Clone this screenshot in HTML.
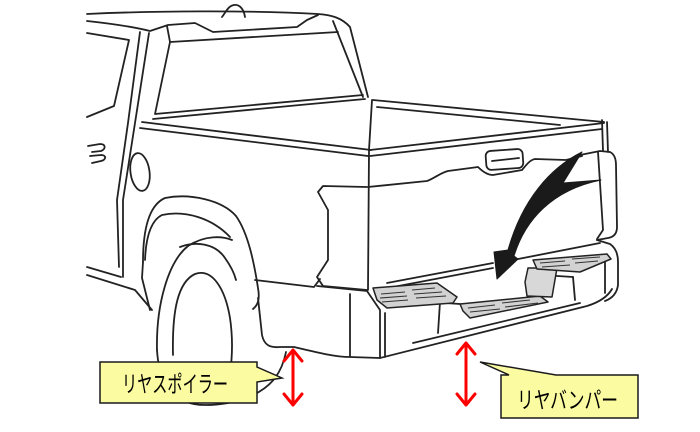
<!DOCTYPE html>
<html><head><meta charset="utf-8"><style>
html,body{margin:0;padding:0;background:#fff;}
svg{display:block;}
</style></head><body>
<svg width="700" height="432" viewBox="0 0 700 432" xmlns="http://www.w3.org/2000/svg">
<rect width="700" height="432" fill="#fff"/>
<g fill="none" stroke="#222" stroke-width="1.8" stroke-linejoin="round" stroke-linecap="round">
<!-- roof -->
<path d="M87 14 C150 11 250 10 318 14 C332 15 342 18 350 27 L368 97"/>
<path d="M333 21 L363 97"/>
<path d="M87 21 C115 24 138 28 150 31 L168 25 L195 23 L213 32 L297 27 L307 20 L318 15"/>
<path d="M222 17 C226 12 228 6 234 5 C240 4 244 10 245 17"/>
<!-- rear window -->
<path d="M167 26 L170 42 L338 32"/>
<path d="M170 42 L155 114 L363 95"/>
<path d="M153 119 L300 105 L365 99"/>
<!-- side window and pillars -->
<path d="M87 33 L129 40 L114 106 L87 117"/>
<path d="M149 33 L135 123 L123 200 L123 277"/>
<path d="M140 32 L128 123 L117 200 L119 267"/>
<path d="M87 267 L121 277"/>
<path d="M87 275 L135 290 L152 310"/>
<!-- door handle -->
<path d="M88 146 L100 144 C106 144 106 149 101 151 L92 152 M90 156 L101 155 C107 155 106 160 101 161 L92 163"/>
<!-- fuel door -->
<ellipse cx="140" cy="172" rx="9.5" ry="19" transform="rotate(-8 140 172)"/>
<!-- bed rails -->
<path d="M142 122 L371 150"/>
<path d="M140 128 L368 156"/>
<path d="M373 100 L604 122"/>
<path d="M377 107 L560 125"/>
<path d="M372 100 L369 150"/>
<path d="M370 150 L604 123"/>
<path d="M370 156 L602 129"/>
<path d="M602 120 L603 151 M607 122 L608 152"/>
<!-- left tail light / bed corner -->
<path d="M369 150 L368 290"/>
<path d="M367 187 L323 186 L318 192 L328 210 L328 260 L317 277 L323 286 L367 290"/>
<path d="M255 280 L314 287 L320 279"/>
<!-- tailgate character line and handle -->
<path d="M368 187 L427 181 C435 178 440 173 448 171 L478 167 C483 172 488 175 493 175 L522 170 C527 164 530 160 535 159 L566 160 L582 156"/>
<rect x="486" y="150" width="37" height="19" rx="5" transform="rotate(-4 504 160)"/>
<path d="M492 161 L519 158"/>
<!-- right tail light -->
<path d="M580 155 L600 151 L610 152 C614 154 616 158 616 165 L617 227 C617 233 614 237 608 238 L597 240"/>
<path d="M598 152 L603 230 L597 239"/>
<!-- fender flare -->
<path d="M143 262 C143 230 149 205 165 198 C190 193 222 200 236 216 C248 233 254 262 258 288 C260 299 258 305 253 309"/>
<path d="M145 260 C146 235 152 220 162 215 C185 210 212 218 230 237"/>
<path d="M143 262 L142 278 L150 310"/>
<!-- tire -->
<path d="M157 350 C156 305 168 262 188 246 C205 235 222 236 232 240"/>
<path d="M180 247 C195 241 215 243 225 258 C230 265 234 272 236 280"/>
<path d="M157 350 C159 385 175 405 205 405 C235 405 262 395 275 378 C281 370 284 362 286 352"/>
<path d="M173 355 C172 310 178 282 195 274 C212 268 225 288 230 318 C234 345 232 375 224 398"/>
<!-- left bumper -->
<path d="M258 298 L262 335 C264 345 270 348 280 347 L294 347 C315 352 335 357 350 357 L380 358"/>
<path d="M317 286 L367 291 L380 310 L380 357"/>
<path d="M350 294 L350 356"/>
<path d="M385 313 L385 357"/>
<!-- bumper main -->
<path d="M380 358 L587 306 C600 302 608 296 612 289"/>
<path d="M413 343 L580 303"/>
<path d="M597 240 L610 244 C616 248 618 255 618 262 L618 285 C617 293 613 298 605 301"/>
<path d="M600 243 L513 260"/>
<path d="M387 283 L493 263"/>
<path d="M388 288 L493 268"/>
<path d="M440 302 L438 333"/>
<path d="M573 277 L575 300"/>
<path d="M605 257 L605 293"/>
<path d="M445 303 L460 304"/>
<path d="M542 275 L573 277"/>
</g>
<!-- steps -->
<g stroke="#222" stroke-width="1.5" stroke-linejoin="round">
<path d="M373 288 L437 283 L457 297 L453 303 L387 308 L377 300 Z" fill="#d2d2d2"/>
<path d="M460 304 L540 296 L548 302 L470 318 L463 311 Z" fill="#d2d2d2"/>
<path d="M528 268 L557 268 L552 297 L527 296 L525 282 Z" fill="#d8d8d8"/>
<path d="M533 260 L607 254 L611 259 L580 272 L537 269 Z" fill="#d2d2d2"/>
</g>
<g stroke="#333" stroke-width="1.1" fill="none">
<path d="M381 294 L405 292 M380 298 L407 296 M382 302 L408 300 M412 290 L435 288 M414 294 L442 292 M416 298 L446 296"/>
<path d="M468 308 L495 305 M470 312 L500 309 M502 303 L530 300 M505 307 L538 303"/>
<path d="M540 263 L565 261 M542 267 L570 265 M572 259 L600 257 M575 263 L598 261"/>
</g>
<!-- big curved arrow -->
<path d="M582 152 C550 168 522 200 508 250 L494 252 L497 279 L518 259 L514 256 C525 220 552 190 601 180 L563 183 Z" fill="#1a1a1a" stroke="#1a1a1a" stroke-width="1" stroke-linejoin="round"/>
<!-- red arrows -->
<g stroke="#ff0000" stroke-width="3" fill="none" stroke-linecap="round" stroke-linejoin="round">
<path d="M293 351 L293 404"/>
<path d="M284 361 L293 350 L302 361"/>
<path d="M284 394 L293 405 L302 394"/>
<path d="M466 344 L466 404"/>
<path d="M457 354 L466 343 L475 354"/>
<path d="M457 394 L466 405 L475 394"/>
</g>
<!-- callouts -->
<path d="M100 362 H257 V367 L282 378 L257 382 V403 H100 Z" fill="#fbfba2" stroke="#1a1a1a" stroke-width="1.5"/>
<text x="122" y="392" font-family="Liberation Sans, Noto Sans CJK JP, sans-serif" font-size="23" fill="#000" textLength="106" lengthAdjust="spacingAndGlyphs">リヤスポイラー</text>
<path d="M501 375 H509 L480 362 L556 375 H638 V418 H501 Z" fill="#fbfba2" stroke="#1a1a1a" stroke-width="1.5"/>
<text x="517" y="408" font-family="Liberation Sans, Noto Sans CJK JP, sans-serif" font-size="23" fill="#000" textLength="101" lengthAdjust="spacingAndGlyphs">リヤバンパー</text>
</svg>
</body></html>
